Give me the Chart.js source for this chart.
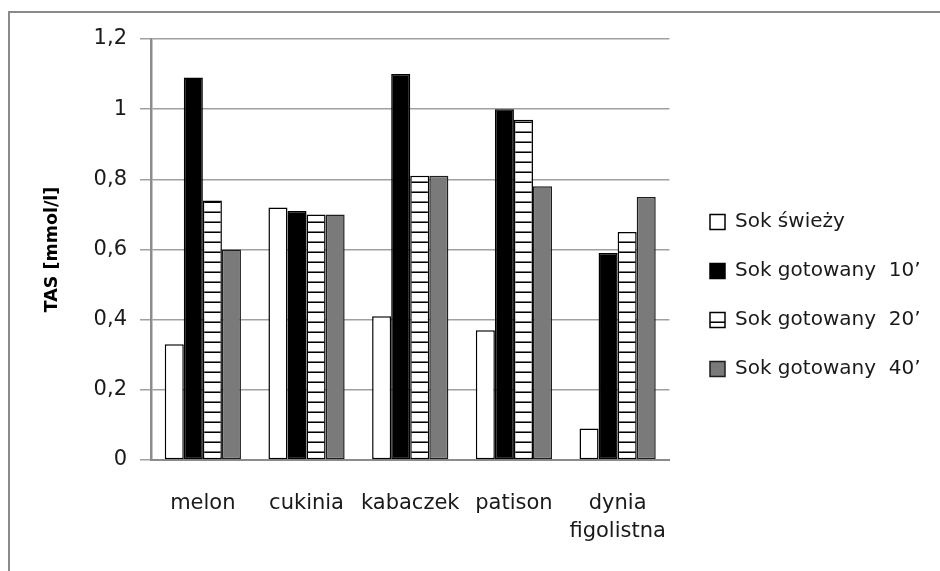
<!DOCTYPE html>
<html>
<head>
<meta charset="utf-8">
<title>TAS</title>
<script src="https://cdn.jsdelivr.net/npm/chart.js@4.4.1/dist/chart.umd.min.js"></script>
<style>
  html, body { margin: 0; padding: 0; background: #ffffff; }
  #wrap { width: 940px; height: 571px; position: relative; }
</style>
</head>
<body>
<div id="wrap"><canvas id="chart" width="940" height="571"></canvas></div>
<script>
// Categories (juice sources) and measured TAS values, mmol/l
const categories = ['melon', 'cukinia', 'kabaczek', 'patison', ['dynia', 'figolistna']];
const seriesNames = ['Sok świeży', 'Sok gotowany  10’', 'Sok gotowany  20’', 'Sok gotowany  40’'];
const sokSwiezy   = [0.33, 0.72, 0.41, 0.37, 0.09];
const sokGot10    = [1.09, 0.71, 1.10, 1.00, 0.59];
const sokGot20    = [0.74, 0.70, 0.81, 0.97, 0.65];
const sokGot40    = [0.60, 0.70, 0.81, 0.78, 0.75];
const yTickLabels = ['0', '0,2', '0,4', '0,6', '0,8', '1', '1,2'];
const yTitle = 'TAS [mmol/l]';

const FONT = '"DejaVu Sans", Verdana, sans-serif';
const canvas = document.getElementById('chart');
const ctx = canvas.getContext('2d');

// horizontal-stripe fill for the 20-minute series
function stripes() {
  const t = document.createElement('canvas');
  t.width = 10; t.height = 10;
  const g = t.getContext('2d');
  g.fillStyle = '#ffffff';
  g.fillRect(0, 0, 10, 10);
  g.fillStyle = '#777777';
  g.fillRect(0, 1, 10, 1);
  g.fillStyle = '#000000';
  g.fillRect(0, 2, 10, 1);
  return ctx.createPattern(t, 'repeat');
}

// legend geometry
const LEG_FONT = 20, LEG_BOX = 15, LEG_PAD = 29;
const PLOT = { left: 151, right: 669, top: 39, bottom: 460 };

// white page with the thin grey frame along the top and left edges
const framePlugin = {
  id: 'frame',
  beforeDraw(chart) {
    const c = chart.ctx;
    c.save();
    c.fillStyle = '#ffffff';
    c.fillRect(0, 0, chart.width, chart.height);
    c.strokeStyle = '#8a8a8a';
    c.lineWidth = 2;
    c.beginPath();
    c.moveTo(9, chart.height);
    c.lineTo(9, 12);
    c.lineTo(chart.width, 12);
    c.stroke();
    c.restore();
  }
};

// keep the legend column at a fixed offset from the plot
const legendSpot = {
  id: 'legendSpot',
  afterLayout(chart) {
    const lg = chart.legend;
    if (!lg) return;
    const dx = 710 - (lg.left + LEG_PAD);
    lg.left += dx;
    lg.right += dx;
  }
};

const dsBase = { borderWidth: 1.5, borderSkipped: false };

const chart = new Chart(ctx, {
  type: 'bar',
  data: {
    labels: categories,
    datasets: [
      Object.assign({ label: seriesNames[0], data: sokSwiezy, backgroundColor: '#ffffff', borderColor: '#000000' }, dsBase),
      Object.assign({ label: seriesNames[1], data: sokGot10, backgroundColor: '#000000', borderColor: '#000000' }, dsBase),
      Object.assign({ label: seriesNames[2], data: sokGot20, backgroundColor: stripes(), borderColor: '#000000' }, dsBase),
      Object.assign({ label: seriesNames[3], data: sokGot40, backgroundColor: '#7a7a7a', borderColor: '#1e1e1e' }, dsBase)
    ]
  },
  options: {
    responsive: false,
    animation: false,
    devicePixelRatio: 1,
    layout: { padding: { top: PLOT.top, bottom: 19, left: 0, right: 0 } },
    datasets: { bar: { categoryPercentage: 0.735, barPercentage: 1.0 } },
    scales: {
      x: {
        grid: { display: false, drawTicks: false },
        border: { display: true, color: '#8c8c8c', width: 2 },
        ticks: {
          color: '#1a1a1a',
          padding: 29,
          maxRotation: 0,
          autoSkip: false,
          font: { family: FONT, size: 21, lineHeight: 1.35 }
        },
        afterFit(scale) {
          scale.height = 571 - 19 - PLOT.bottom;
          scale.paddingLeft = 0;
          scale.paddingRight = 0;
        }
      },
      y: {
        min: 0,
        max: 1.2,
        ticks: {
          stepSize: 0.2,
          color: '#1a1a1a',
          padding: 13,
          font: { family: FONT, size: 21 },
          callback: (v, i) => yTickLabels[i]
        },
        grid: { color: '#a0a0a0', lineWidth: 1.5, tickLength: 11, drawTicks: true },
        border: { display: true, color: '#8c8c8c', width: 2.5 },
        title: {
          display: true,
          text: yTitle,
          color: '#000000',
          padding: { top: 42, bottom: 0 },
          font: { family: FONT, size: 17.5, weight: 'bold', lineHeight: 1.2 }
        },
        afterFit(scale) {
          scale.width = PLOT.left;
          scale.paddingTop = 0;
          scale.paddingBottom = 0;
        }
      }
    },
    plugins: {
      legend: {
        position: 'right',
        align: 'center',
        maxWidth: 400,
        labels: {
          boxWidth: LEG_BOX,
          boxHeight: LEG_BOX,
          padding: LEG_PAD,
          color: '#1a1a1a',
          font: { family: FONT, size: LEG_FONT }
        }
      },
      tooltip: { enabled: false }
    }
  },
  plugins: [framePlugin, legendSpot]
});

// widen the right margin so the plot ends where the legend column begins
const extra = Math.round(chart.chartArea.right - PLOT.right);
if (extra !== 0) {
  chart.options.layout.padding.right = Math.max(0, extra);
  chart.update();
}
</script>
</body>
</html>
